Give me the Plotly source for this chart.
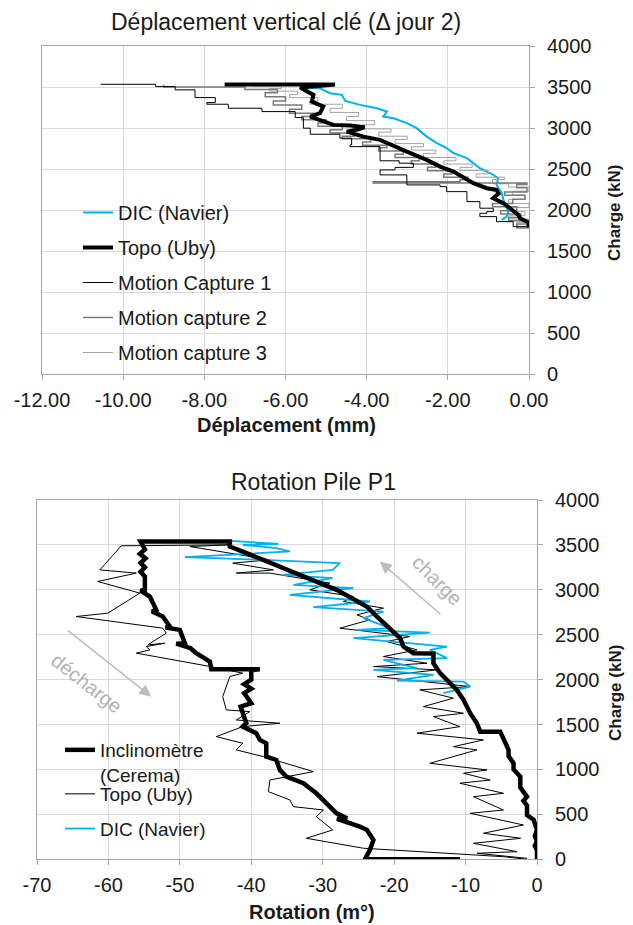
import plotly.graph_objects as go

# ---------------- Top chart data : Déplacement vertical clé ----------------
X1_TICKS = [-12, -10, -8, -6, -4, -2, 0]
X1_TICKTEXT = ["-12.00", "-10.00", "-8.00", "-6.00", "-4.00", "-2.00", "0.00"]
Y_TICKS = [0, 500, 1000, 1500, 2000, 2500, 3000, 3500, 4000]
Y_TICKTEXT = ["0", "500", "1000", "1500", "2000", "2500", "3000", "3500", "4000"]

dic_top_x = [-0.67, -0.55, -0.51, -0.63, -0.67, -0.80, -0.76, -0.88, -1.21, -1.37, -1.53, -1.86,
             -2.03, -2.27, -2.52, -2.77, -3.01, -3.34, -3.59, -3.50, -3.75, -4.16, -4.53, -4.61,
             -4.90, -5.15, -5.48]
dic_top_y = [1879, 1919, 1980, 2123, 2205, 2306, 2388, 2428, 2510, 2571, 2632, 2693,
             2754, 2815, 2895, 2998, 3059, 3119, 3139, 3200, 3241, 3282, 3331, 3404,
             3424, 3485, 3493]

topo_top_x = [0.0, -0.02, -0.22, -0.26, -0.47, -0.63, -0.88, -0.75, -0.80, -1.04, -1.37, -1.66,
              -1.86, -2.19, -2.52, -3.01, -3.42, -3.67, -4.08, -4.49, -4.20, -4.05, -4.40, -4.82,
              -5.39, -5.15, -5.07, -5.35, -5.31, -5.64, -4.78, -7.50]
topo_top_y = [1790, 1850, 1899, 1940, 2022, 2083, 2144, 2200, 2245, 2266, 2327, 2407,
              2468, 2529, 2611, 2712, 2794, 2855, 2895, 2956, 2985, 3010, 3030, 3038,
              3139, 3180, 3261, 3322, 3404, 3493, 3530, 3530]

mc1_x = [0.0, -0.39, -0.80, -1.21, -1.04, -0.88, -1.21, -1.53, -2.03, -2.19, -3.01, -3.67,
         -3.30, -2.85, -3.20, -3.67, -3.67, -4.41, -4.37, -4.66, -5.39, -5.56, -5.76, -6.58,
         -7.41, -7.94, -7.73, -8.23, -8.72, -9.20, -10.55]
mc1_y = [1797, 1858, 1919, 1960, 1980, 2022, 2102, 2224, 2285, 2306, 2428, 2489,
         2520, 2571, 2600, 2632, 2773, 2794, 2876, 2924, 2998, 3127, 3200, 3241,
         3290, 3310, 3371, 3465, 3505, 3533, 3535]

mc2_x = [0.0, -0.30, -0.05, -0.50, -0.20, -0.70, -0.30, -0.90, -0.40, -0.10, -0.60, -0.05,
         -0.30, -0.05, -3.84, -1.70, -1.50, -2.10, -1.90, -2.50, -2.30, -2.90, -2.70, -3.30,
         -3.10, -3.70, -3.50, -4.10, -3.90, -4.60, -4.30, -4.90, -4.60, -5.20, -5.00, -5.60,
         -5.30, -5.90, -5.60, -6.30, -6.00, -6.50, -6.20, -7.00, -9.00]
mc2_y = [1780, 1830, 1870, 1910, 1950, 1990, 2040, 2080, 2130, 2180, 2220, 2270,
         2310, 2330, 2346, 2370, 2400, 2440, 2480, 2520, 2560, 2600, 2640, 2680,
         2720, 2760, 2790, 2830, 2870, 2900, 2940, 2980, 3020, 3060, 3100, 3140,
         3180, 3230, 3280, 3330, 3380, 3430, 3470, 3500, 3528]

mc3_x = [0.0, -0.30, 0.0, -0.50, -0.10, -0.40, 0.0, -0.50, -0.10, -0.40, 0.0, -0.50,
         -0.90, -0.60, -1.30, -1.00, -1.70, -1.40, -2.10, -1.80, -2.60, -2.30, -2.90, -2.60,
         -3.30, -3.00, -3.70, -3.40, -4.10, -3.80, -4.50, -4.20, -4.90, -4.60, -5.40, -5.20,
         -5.90, -5.70, -6.40, -6.10, -6.80]
mc3_y = [1800, 1850, 1890, 1930, 1980, 2030, 2080, 2130, 2180, 2230, 2280, 2320,
         2370, 2400, 2440, 2480, 2520, 2560, 2600, 2640, 2690, 2730, 2770, 2810,
         2860, 2900, 2950, 2990, 3040, 3090, 3140, 3190, 3240, 3290, 3330, 3370,
         3410, 3450, 3480, 3510, 3525]

# ---------------- Bottom chart data : Rotation Pile P1 ----------------
X2_TICKS = [-70, -60, -50, -40, -30, -20, -10, 0]
X2_TICKTEXT = ["-70", "-60", "-50", "-40", "-30", "-20", "-10", "0"]

incl_x = [0.0, 0.0, -0.3, 0.0, -0.3, 0.0, -0.47, -1.4, -1.4, -1.9, -1.4, -2.34, -2.34, -3.28,
          -3.28, -3.98, -3.98, -4.68, -5.15, -7.95, -8.42, -9.35, -10.29, -11.22, -12.16,
          -13.56, -14.50, -14.50, -17.3, -18.7, -19.17, -21.04, -22.44, -23.84, -26.19, -28.05,
          -30.39, -32.73, -35.06, -37.40, -40.67, -43.0, -43.0, -55.5,
          -55.2, -54.9, -55.6, -54.8, -55.5, -54.9, -55.5, -54.9, -54.9, -55.5, -54.2, -53.3,
          -53.9, -52.4, -51.4, -52.0, -50.0, -49.3, -50.5, -48.5, -47.7, -45.8, -45.6, -38.8,
          -40.0, -40.0, -41.0, -40.0, -41.0, -40.0, -41.5, -40.7, -41.2, -39.3, -38.8, -37.9,
          -37.9, -36.5, -36.0, -35.1, -32.7, -30.9, -29.0, -28.05, -26.6, -28.0, -24.8, -23.8,
          -22.9, -23.4, -24.1, -10.76]
incl_y = [0, 100, 150, 200, 260, 327, 440, 493, 600, 650, 697, 800, 920, 1000,
          1069, 1150, 1218, 1329, 1421, 1421, 1515, 1626, 1775, 1886, 1961,
          2072, 2183, 2290, 2295, 2368, 2462, 2591, 2703, 2814, 2925, 3000,
          3075, 3148, 3222, 3297, 3409, 3482, 3538, 3538,
          3500, 3450, 3400, 3350, 3300, 3250, 3200, 3150, 3000, 2990, 2925, 2777,
          2760, 2703, 2591, 2580, 2554, 2406, 2400, 2350, 2295, 2201, 2116, 2116,
          2109, 2000, 1950, 1900, 1850, 1738, 1700, 1515, 1477, 1404, 1329, 1292,
          1143, 1106, 995, 920, 847, 735, 586, 512, 457, 450, 363, 327,
          215, 104, 0, 0]

topo_bot_x = [-1.4, -8.4, -2.8, -8.9, -2.3, -7.5, -1.9, -9.35, -4.7, -8.9, -4.7, -10.8, -6.55,
              -10.3, -7.0, -15.0, -8.4, -11.7, -7.5, -16.8, -10.8, -14.5, -10.3, -15.9, -11.7,
              -16.4, -9.35, -22.4, -14.0, -22.9, -15.4, -21.5, -16.8, -21.0, -17.8, -27.6,
              -23.4, -25.2, -21.5, -27.1, -25.7, -31.8, -29.0, -37.4, -42.1, -36.9, -42.6,
              -37.4, -48.6, -43.0, -58.2,
              -61.2, -56.1, -61.5, -55.6, -60.1, -64.5, -52.4, -51.9, -54.5, -52.1, -54.7, -54.2,
              -56.1, -46.0, -41.2, -43.0, -44.0, -43.5, -40.2, -42.1, -36.0, -41.2, -44.9, -41.2,
              -42.1, -38.3, -31.3, -37.4, -37.6, -34.6, -34.1, -29.9, -30.9, -28.6, -32.3, -24.3,
              -4.7, -1.4]
topo_bot_y = [11, 67, 85, 178, 234, 290, 382, 512, 549, 697, 735, 847, 883,
              958, 995, 1069, 1218, 1254, 1329, 1404, 1477, 1589, 1626, 1700, 1794,
              1886, 1923, 2034, 2109, 2146, 2183, 2257, 2332, 2424, 2480, 2573,
              2666, 2722, 2796, 2870, 2925, 3000, 3075, 3186, 3186, 3222, 3297,
              3334, 3482, 3501, 3490,
              3222, 3186, 3093, 2963, 2740, 2703, 2573, 2518, 2387, 2406, 2368, 2332,
              2295, 2150, 2072, 2035, 1811, 1663, 1644, 1551, 1515, 1477, 1366, 1292,
              1218, 1143, 976, 883, 753, 661, 586, 549, 475, 327, 234, 123,
              29, 0]

dic_bot_x = [-13.1, -9.35, -10.3, -19.6, -14.5, -22.9, -16.8, -21.5, -12.6, -15.0, -12.6, -25.7,
             -15.0, -25.2, -20.6, -24.3, -21.5, -31.3, -23.4, -34.6, -25.7, -34.1, -28.6, -35.6,
             -28.6, -27.6, -38.3, -49.3, -34.6, -36.5, -41.2, -36.2, -43.0, -54.7]
dic_bot_y = [1849, 1923, 1979, 1990, 2053, 2109, 2128, 2220, 2239, 2332, 2368, 2462,
             2524, 2554, 2573, 2685, 2758, 2807, 2870, 2944, 3019, 3056, 3130, 3167,
             3222, 3297, 3334, 3364, 3427, 3464, 3501, 3512, 3546, 3546]

BLUE = "#00B0F0"
FONT = "Liberation Sans, Arial, sans-serif"
TXT = "#1a1a1a"
GRID = "#d9d9d9"
FRAME = "#a6a6a6"
W, H = 633, 925

fig = go.Figure()

# top chart traces
fig.add_trace(go.Scatter(x=dic_top_x, y=dic_top_y, mode="lines", name="DIC (Navier)",
                         line=dict(color=BLUE, width=2), xaxis="x", yaxis="y",
                         legend="legend", legendgroup="a", legendrank=1))
fig.add_trace(go.Scatter(x=mc3_x, y=mc3_y, mode="lines", name="Motion capture 3",
                         line=dict(color="#a3a3a3", width=1, shape="hv"), xaxis="x", yaxis="y",
                         legend="legend", legendgroup="e", legendrank=5))
fig.add_trace(go.Scatter(x=mc2_x, y=mc2_y, mode="lines", name="Motion capture 2",
                         line=dict(color="#7a7a7a", width=1.5, shape="hv"), xaxis="x", yaxis="y",
                         legend="legend", legendgroup="d", legendrank=4))
fig.add_trace(go.Scatter(x=mc1_x, y=mc1_y, mode="lines", name="Motion Capture 1",
                         line=dict(color="#000000", width=1, shape="hv"), xaxis="x", yaxis="y",
                         legend="legend", legendgroup="c", legendrank=3))
fig.add_trace(go.Scatter(x=topo_top_x, y=topo_top_y, mode="lines", name="Topo (Uby)",
                         line=dict(color="#000000", width=4), xaxis="x", yaxis="y",
                         legend="legend", legendgroup="b", legendrank=2))

# bottom chart traces
fig.add_trace(go.Scatter(x=topo_bot_x, y=topo_bot_y, mode="lines", name="Topo (Uby)",
                         line=dict(color="#000000", width=1), xaxis="x2", yaxis="y2",
                         legend="legend3", legendgroup="g", legendrank=1))
fig.add_trace(go.Scatter(x=dic_bot_x, y=dic_bot_y, mode="lines", name="DIC (Navier)",
                         line=dict(color=BLUE, width=1.8), xaxis="x2", yaxis="y2",
                         legend="legend3", legendgroup="h", legendrank=2))
fig.add_trace(go.Scatter(x=incl_x, y=incl_y, mode="lines", name="Inclinomètre<br>(Cerema)",
                         line=dict(color="#000000", width=4.5), xaxis="x2", yaxis="y2",
                         legend="legend2"))


def px_x(p):
    return p / W


def px_y(p):
    return (H - p) / H


axis_common = dict(showgrid=True, gridcolor=GRID, gridwidth=1, showline=True, linecolor=FRAME,
                   linewidth=1, mirror=True, ticks="outside", ticklen=5, tickcolor=FRAME,
                   tickfont=dict(family=FONT, size=20, color=TXT), zeroline=False,
                   automargin=False)

fig.update_layout(
    template="none",
    width=W, height=H, margin=dict(l=0, r=0, t=0, b=0, pad=0, autoexpand=False),
    paper_bgcolor="white", plot_bgcolor="white",
    font=dict(family=FONT, color=TXT),
    xaxis=dict(domain=[px_x(42), px_x(529)], anchor="y", range=[-12, 0],
               tickmode="array", tickvals=X1_TICKS, ticktext=X1_TICKTEXT,
               ticklabelstandoff=3, **axis_common),
    yaxis=dict(domain=[px_y(374), px_y(46)], anchor="x", side="right", range=[0, 4000],
               tickmode="array", tickvals=Y_TICKS, ticktext=Y_TICKTEXT,
               ticklabelstandoff=8, **axis_common),
    xaxis2=dict(domain=[px_x(37), px_x(537)], anchor="y2", range=[-70, 0],
                tickmode="array", tickvals=X2_TICKS, ticktext=X2_TICKTEXT,
                ticklabelstandoff=3, **axis_common),
    yaxis2=dict(domain=[px_y(859.3), px_y(500)], anchor="x2", side="right", range=[0, 4000],
                tickmode="array", tickvals=Y_TICKS, ticktext=Y_TICKTEXT,
                ticklabelstandoff=8, **axis_common),
    legend=dict(x=px_x(78), y=px_y(193), xanchor="left", yanchor="top",
                bgcolor="rgba(0,0,0,0)", font=dict(family=FONT, size=20, color=TXT),
                traceorder="grouped", tracegroupgap=6, itemwidth=30),
    legend2=dict(x=px_x(60), y=px_y(731), xanchor="left", yanchor="top", valign="top",
                 bgcolor="rgba(0,0,0,0)", font=dict(family=FONT, size=19, color=TXT), itemwidth=30),
    legend3=dict(x=px_x(60), y=px_y(775), xanchor="left", yanchor="top",
                 bgcolor="rgba(0,0,0,0)", font=dict(family=FONT, size=19, color=TXT),
                 traceorder="grouped", tracegroupgap=7, itemwidth=30),
    shapes=[
        dict(type="rect", xref="paper", yref="paper", x0=px_x(43), x1=px_x(302),
             y0=px_y(373), y1=px_y(197), fillcolor="white", line=dict(width=0), layer="between"),
        dict(type="rect", xref="paper", yref="paper", x0=px_x(38), x1=px_x(230),
             y0=px_y(850), y1=px_y(735), fillcolor="white", line=dict(width=0), layer="between"),
    ],
)

ann = []


def label(text, x, y, size, angle=0):
    ann.append(dict(text=text, x=px_x(x), y=px_y(y), xref="paper", yref="paper",
                    xanchor="center", yanchor="middle", showarrow=False, textangle=angle,
                    font=dict(family=FONT, size=size, color=TXT)))


label("Déplacement vertical clé (Δ jour 2)", 286, 22, 23)
label("<b>Déplacement (mm)</b>", 286, 425, 20)
label("<b>Charge (kN)</b>", 615, 213, 17, -90)
label("Rotation Pile P1", 313, 482, 23)
label("<b>Rotation (m°)</b>", 312, 912, 20)
label("<b>Charge (kN)</b>", 615, 693, 17, -90)

# charge / décharge arrows and labels
ARROW = "#bdbdbd"
ann.append(dict(text="", x=-22.0, y=3315, ax=-13.3, ay=2714, xref="x2", yref="y2",
                axref="x2", ayref="y2", showarrow=True, arrowhead=2, arrowsize=1.6,
                arrowwidth=1.5, arrowcolor=ARROW))
ann.append(dict(text="", x=-54.0, y=1811, ax=-65.9, ay=2562, xref="x2", yref="y2",
                axref="x2", ayref="y2", showarrow=True, arrowhead=2, arrowsize=1.6,
                arrowwidth=1.5, arrowcolor=ARROW))
ann.append(dict(text="charge", x=-14.0, y=3111, xref="x2", yref="y2", showarrow=False,
                xanchor="center", yanchor="middle",
                textangle=45, font=dict(family=FONT, size=20, color="#b3b3b3")))
ann.append(dict(text="décharge", x=-63.1, y=1961, xref="x2", yref="y2", showarrow=False,
                xanchor="center", yanchor="middle",
                textangle=38, font=dict(family=FONT, size=20, color="#b3b3b3")))
fig.update_layout(annotations=ann)

fig.write_html("out.html", config={"displayModeBar": False},
               post_script="document.body.style.margin='0px';")
